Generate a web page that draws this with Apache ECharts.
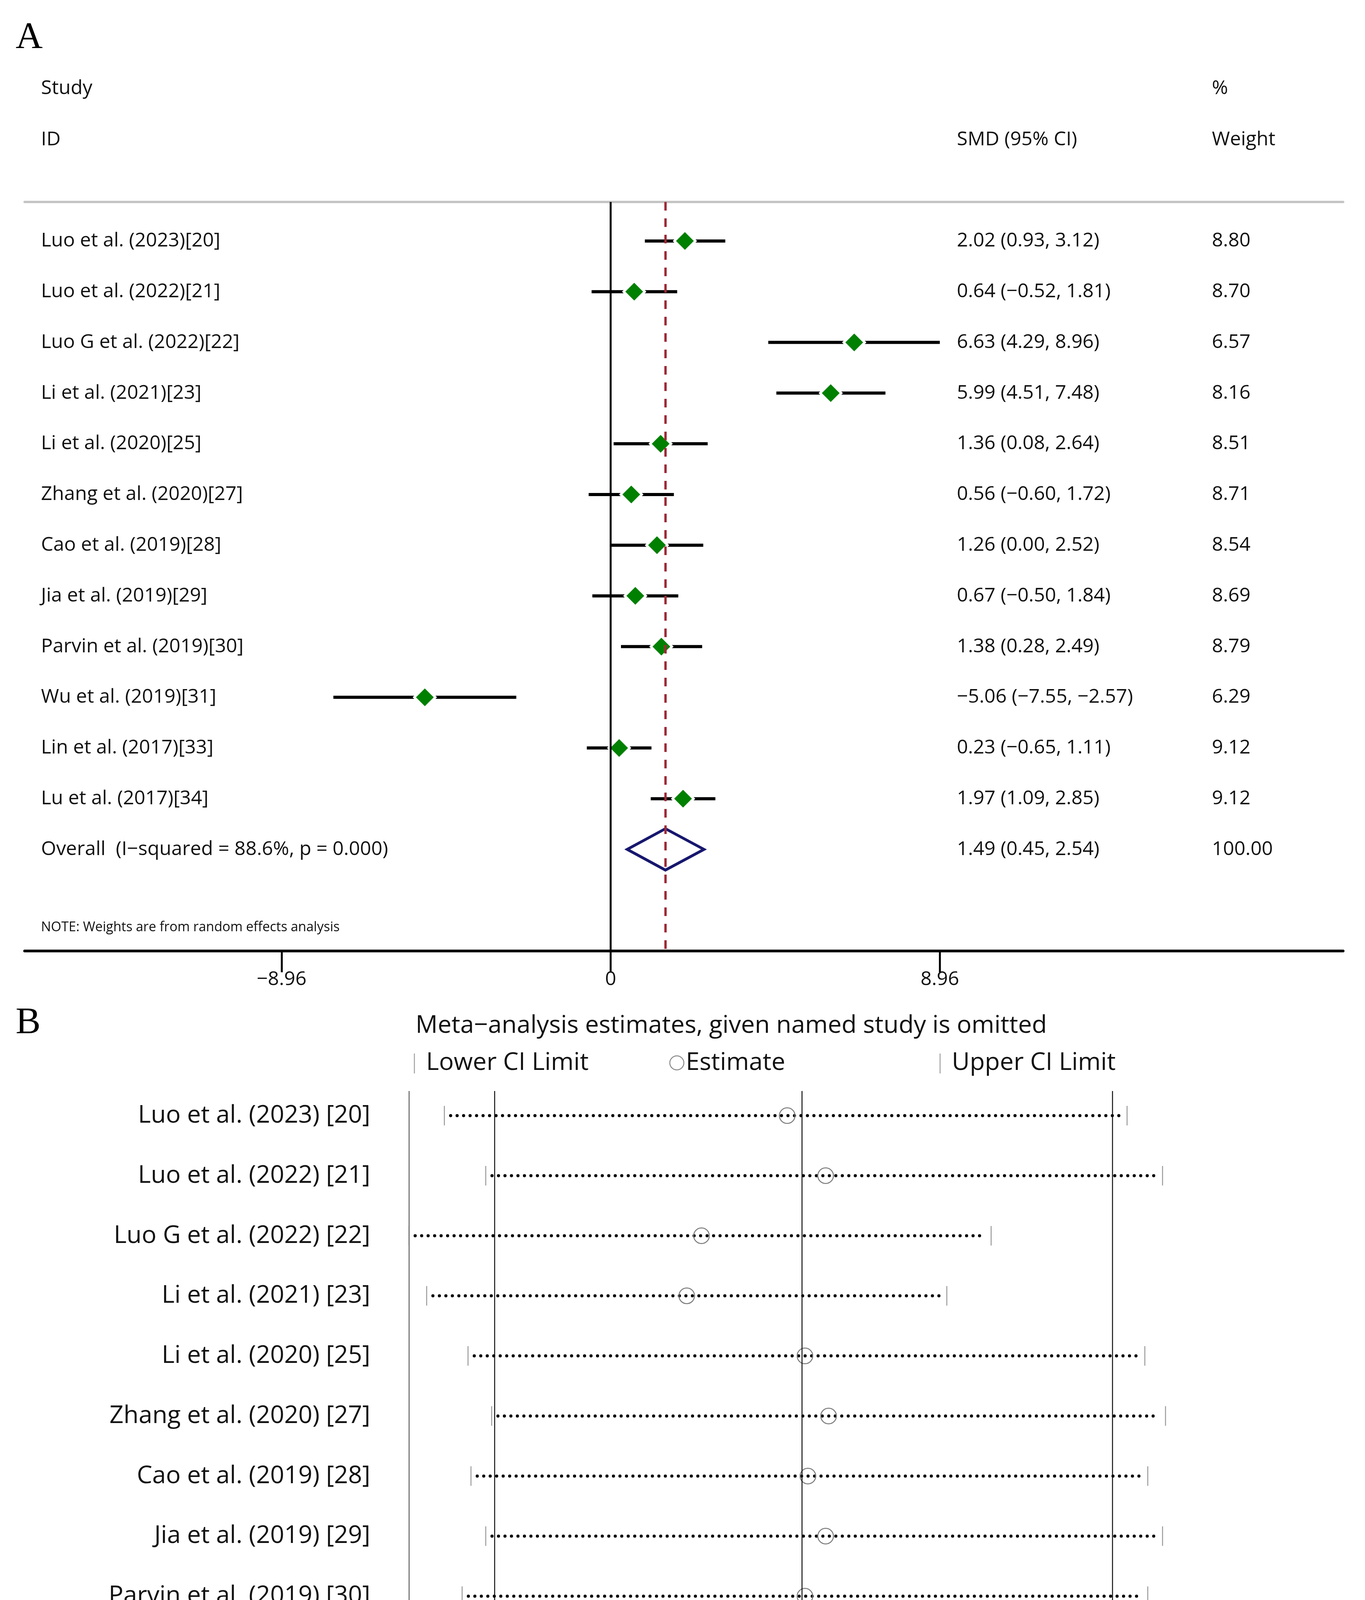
<!DOCTYPE html>
<html><head><meta charset="utf-8">
<script src="https://cdn.jsdelivr.net/npm/echarts@6/dist/echarts.min.js"></script>
<style>html,body{margin:0;padding:0;background:#fff}#c{width:3495px;height:4762px}</style>
</head><body><div id="c"></div>
<script>
// ---------- Panel A data ----------
const studiesA = ['Luo et al. (2023)[20]','Luo et al. (2022)[21]','Luo G et al. (2022)[22]','Li et al. (2021)[23]','Li et al. (2020)[25]','Zhang et al. (2020)[27]','Cao et al. (2019)[28]','Jia et al. (2019)[29]','Parvin et al. (2019)[30]','Wu et al. (2019)[31]','Lin et al. (2017)[33]','Lu et al. (2017)[34]'];
const smdA = [2.02,0.64,6.63,5.99,1.36,0.56,1.26,0.67,1.38,-5.06,0.23,1.97];
const loA = [0.93,-0.52,4.29,4.51,0.08,-0.60,0.00,-0.50,0.28,-7.55,-0.65,1.09];
const hiA = [3.12,1.81,8.96,7.48,2.64,1.72,2.52,1.84,2.49,-2.57,1.11,2.85];
const weightA = [8.80,8.70,6.57,8.16,8.51,8.71,8.54,8.69,8.79,6.29,9.12,9.12];
const overallLabel = 'Overall  (I\u2212squared = 88.6%, p = 0.000)';
const overallEst = 1.49, overallLo = 0.45, overallHi = 2.54, overallWeight = 100.00;
const ticksA = [-8.96, 0, 8.96];

// ---------- Panel B data ----------
const studiesB = ['Luo et al. (2023) [20]','Luo et al. (2022) [21]','Luo G et al. (2022) [22]','Li et al. (2021) [23]','Li et al. (2020) [25]','Zhang et al. (2020) [27]','Cao et al. (2019) [28]','Jia et al. (2019) [29]','Parvin et al. (2019) [30]','Wu et al. (2019) [31]','Lin et al. (2017) [33]','Lu et al. (2017) [34]'];
const estB = [1.44,1.57,1.15,1.10,1.50,1.58,1.51,1.57,1.50,1.90,1.62,1.44];
const loB = [0.28,0.42,0.16,0.22,0.36,0.44,0.37,0.42,0.34,0.95,0.47,0.26];
const hiB = [2.59,2.71,2.13,1.98,2.65,2.72,2.66,2.71,2.66,2.84,2.76,2.62];
const ticksB = [0.16,0.45,1.49,2.54,2.84];
const refLinesB = [0.45,1.49,2.54];
const axisMinB = 0.16, axisMaxB = 2.84;

const FONT = '"Open Sans","Noto Sans",sans-serif';
const fmt = v => (v < 0 ? '\u2212' : '') + Math.abs(v).toFixed(2);
const ciText = (e,l,h) => fmt(e) + ' (' + fmt(l) + ', ' + fmt(h) + ')';
const nA = studiesA.length;

// text column helper (custom series)
function textColumn(xAxisIndex, yAxisIndex, texts, xPix, align, size, color) {
  return {
    type: 'custom', xAxisIndex, yAxisIndex, clip: false, silent: true, z: 5,
    data: texts.map((t,i)=>[0,i]),
    encode: {x: 0, y: 1},
    renderItem: (params, api) => {
      const y = api.coord([0, api.value(1)])[1];
      return {type:'text', style:{x:xPix, y:y, text:texts[params.dataIndex], fill:color, font: size+'px '+FONT, align:align, verticalAlign:'middle'}};
    }
  };
}

const labelsA = studiesA.concat([overallLabel]);
const ciA = smdA.map((v,i)=>ciText(v, loA[i], hiA[i])).concat([ciText(overallEst, overallLo, overallHi)]);
const wA = weightA.map(w=>w.toFixed(2)).concat([overallWeight.toFixed(2)]);

const FA = 50, FB = 63;

const chart = echarts.init(document.getElementById('c'), null, {renderer:'canvas'});
const option = {
  backgroundColor: '#fff',
  animation: false,
  grid: [
    {left: 63, top: 517, width: 3376, height: 1917},
    {left: 1047, top: 2793, width: 2028, height: 1816}
  ],
  xAxis: [
    {gridIndex:0, type:'value', min:-15.956, max:19.94, position:'bottom',
     axisLine:{show:true, onZero:false, lineStyle:{color:'#000', width:7}},
     axisTick:{show:true, customValues:ticksA, length:55, lineStyle:{color:'#000', width:5}},
     axisLabel:{show:true, customValues:ticksA, formatter: v=>(v===0?'0':fmt(v)), fontSize:FA, fontFamily:FONT, color:'#111', margin:49},
     splitLine:{show:false}},
    {gridIndex:0, type:'value', min:-15.956, max:19.94, position:'top',
     axisLine:{show:true, onZero:false, lineStyle:{color:'#c4c4c4', width:6}},
     axisTick:{show:false}, axisLabel:{show:false}, splitLine:{show:false}},
    {gridIndex:1, type:'value', min:axisMinB, max:axisMaxB, position:'bottom',
     axisLine:{show:true, onZero:false, lineStyle:{color:'#5c5c5c', width:5}},
     axisTick:{show:true, customValues:ticksB, length:43, lineStyle:{color:'#333', width:2.5}},
     axisLabel:{show:true, customValues:ticksB, formatter: v=>v.toFixed(2), fontSize:FB, fontFamily:FONT, color:'#111', margin:38},
     splitLine:{show:false}}
  ],
  yAxis: [
    {gridIndex:0, type:'value', inverse:true, min:-0.77, max:14.0, show:false},
    {gridIndex:0, type:'value', inverse:true, min:-0.77, max:14.0, show:false},
    {gridIndex:1, type:'value', inverse:true, min:-0.41, max:11.40, show:false}
  ],
  graphic: [
    {type:'text', left:40, top:50, style:{text:'A', font:'96px "Liberation Serif",serif', fill:'#000'}},
    {type:'text', x:105, y:227, style:{text:'Study', font:FA+'px '+FONT, fill:'#111', verticalAlign:'middle'}},
    {type:'text', x:105, y:358, style:{text:'ID', font:FA+'px '+FONT, fill:'#111', verticalAlign:'middle'}},
    {type:'text', x:2450, y:358, style:{text:'SMD (95% CI)', font:FA+'px '+FONT, fill:'#111', verticalAlign:'middle'}},
    {type:'text', x:3103, y:227, style:{text:'%', font:FA+'px '+FONT, fill:'#111', verticalAlign:'middle'}},
    {type:'text', x:3103, y:358, style:{text:'Weight', font:FA+'px '+FONT, fill:'#111', verticalAlign:'middle'}},
    {type:'text', x:105, y:2374, style:{text:'NOTE: Weights are from random effects analysis', font:'34px '+FONT, fill:'#111', verticalAlign:'middle'}},
    {type:'text', left:40, top:2572, style:{text:'B', font:'96px "Liberation Serif",serif', fill:'#000'}},
    {type:'text', x:1064, y:2626, style:{text:'Meta\u2212analysis estimates, given named study is omitted', font:FB+'px '+FONT, fill:'#111', verticalAlign:'middle'}},
    {type:'line', shape:{x1:1061, y1:2697, x2:1061, y2:2748}, style:{stroke:'#a0a0a0', lineWidth:2.5}},
    {type:'text', x:1091, y:2721, style:{text:'Lower CI Limit', font:FB+'px '+FONT, fill:'#111', verticalAlign:'middle'}},
    {type:'circle', shape:{cx:1733, cy:2721, r:18}, style:{stroke:'#8a8a8a', lineWidth:2.5, fill:'none'}},
    {type:'text', x:1756, y:2721, style:{text:'Estimate', font:FB+'px '+FONT, fill:'#111', verticalAlign:'middle'}},
    {type:'line', shape:{x1:2407, y1:2697, x2:2407, y2:2748}, style:{stroke:'#a0a0a0', lineWidth:2.5}},
    {type:'text', x:2437, y:2721, style:{text:'Upper CI Limit', font:FB+'px '+FONT, fill:'#111', verticalAlign:'middle'}}
  ],
  series: [
    // Panel A reference lines
    {type:'line', xAxisIndex:0, yAxisIndex:0, data:[], z:1, silent:true,
     markLine:{symbol:'none', silent:true, label:{show:false}, animation:false,
       data:[{xAxis:0, lineStyle:{color:'#000', width:5, type:'solid'}},
             {xAxis:overallEst, lineStyle:{color:'#9e2a36', width:6, type:[22,20]}}]}},
    // CI lines
    {type:'custom', xAxisIndex:0, yAxisIndex:0, z:2, silent:true, clip:false,
     data: loA.map((l,i)=>[l, hiA[i], i]), encode:{x:[0,1], y:2},
     renderItem:(p, api)=>{
       const a = api.coord([api.value(0), api.value(2)]);
       const b = api.coord([api.value(1), api.value(2)]);
       return {type:'line', shape:{x1:a[0], y1:a[1], x2:b[0], y2:b[1]}, style:{stroke:'#000', lineWidth:8}};
     }},
    // point estimates
    {type:'scatter', xAxisIndex:0, yAxisIndex:0, z:3, silent:true,
     data: smdA.map((v,i)=>[v,i]), symbol:'diamond', symbolSize:[54,54],
     itemStyle:{color:'#008000', borderColor:'#fff', borderWidth:6, opacity:1}},
    // overall diamond
    {type:'custom', xAxisIndex:0, yAxisIndex:0, z:3, silent:true, clip:false,
     data:[[overallLo, overallEst, overallHi, nA]], encode:{x:[0,1,2], y:3},
     renderItem:(p, api)=>{
       const row = api.value(3);
       const l = api.coord([api.value(0), row]);
       const e = api.coord([api.value(1), row]);
       const h = api.coord([api.value(2), row]);
       return {type:'polygon', shape:{points:[[l[0],l[1]],[e[0],e[1]-53],[h[0],h[1]],[e[0],e[1]+53]]},
               style:{stroke:'#17176e', lineWidth:7, fill:'none', lineJoin:'miter'}};
     }},
    textColumn(0, 0, labelsA, 105, 'left', FA, '#111'),
    textColumn(0, 0, ciA, 2450, 'left', FA, '#111'),
    textColumn(0, 0, wA, 3103, 'left', FA, '#111'),

    // Panel B reference lines
    {type:'line', xAxisIndex:2, yAxisIndex:2, data:[], z:1, silent:true,
     markLine:{symbol:'none', silent:true, label:{show:false}, animation:false,
       data:[{xAxis:axisMinB, lineStyle:{color:'#7a7a7a', width:3, type:'solid'}}].concat(
         refLinesB.map(v=>({xAxis:v, lineStyle:{color:'#111', width:2.5, type:'solid'}})))}},
    // dotted CI lines and end ticks
    {type:'custom', xAxisIndex:2, yAxisIndex:2, z:2, silent:true, clip:false,
     data: loB.map((l,i)=>[l, hiB[i], i]), encode:{x:[0,1], y:2},
     renderItem:(p, api)=>{
       const a = api.coord([api.value(0), api.value(2)]);
       const b = api.coord([api.value(1), api.value(2)]);
       return {type:'group', children:[
         {type:'line', shape:{x1:a[0]+16, y1:a[1], x2:b[0]-16, y2:b[1]},
          style:{stroke:'#000', lineWidth:8, lineDash:[0.01,16.6], lineCap:'round'}},
         {type:'line', shape:{x1:a[0], y1:a[1]-25, x2:a[0], y2:a[1]+25}, style:{stroke:'#9a9a9a', lineWidth:2.5}},
         {type:'line', shape:{x1:b[0], y1:b[1]-25, x2:b[0], y2:b[1]+25}, style:{stroke:'#9a9a9a', lineWidth:2.5}}
       ]};
     }},
    {type:'scatter', xAxisIndex:2, yAxisIndex:2, z:3, silent:true,
     data: estB.map((v,i)=>[v,i]), symbol:'circle', symbolSize:40,
     itemStyle:{color:'rgba(0,0,0,0)', borderColor:'#7a7a7a', borderWidth:2.5, opacity:1}},
    textColumn(2, 2, studiesB, 948, 'right', FB, '#111')
  ]
};
chart.setOption(option);
</script>
</body></html>
